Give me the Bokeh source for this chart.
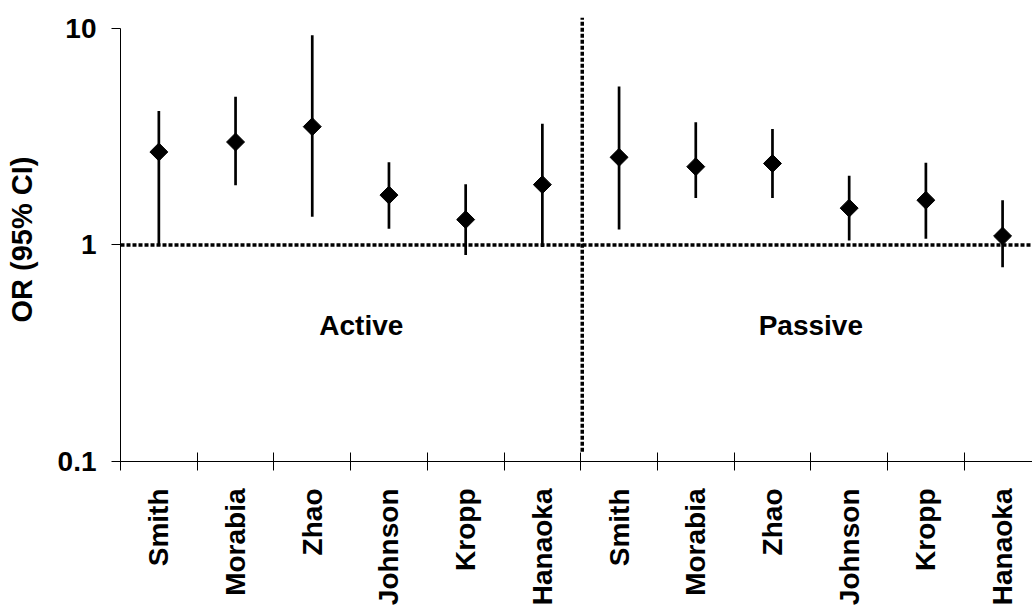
import math
from bokeh.plotting import figure
from bokeh.models import FixedTicker, Range1d, CustomJSTickFormatter, Span
from bokeh.core.properties import value
from bokeh.embed import file_html
from bokeh.resources import INLINE

# ---- data ----
studies = ["Smith", "Morabia", "Zhao", "Johnson", "Kropp", "Hanaoka"]
groups = ["Active", "Passive"]
active_or = [2.69, 2.99, 3.52, 1.70, 1.31, 1.90]
active_lo = [0.99, 1.89, 1.35, 1.19, 0.90, 0.98]
active_hi = [4.16, 4.84, 9.30, 2.41, 1.91, 3.63]
passive_or = [2.54, 2.30, 2.38, 1.48, 1.61, 1.10]
passive_lo = [1.18, 1.65, 1.65, 1.05, 1.07, 0.79]
passive_hi = [5.39, 3.69, 3.43, 2.09, 2.40, 1.61]
y_ticks = [0.1, 1, 10]
y_tick_labels = ["0.1", "1", "10"]
ref_or = 1.0

# layout / annotation positions (not data)
group_label_x = [3.14, 9.0]
group_label_y = [0.425, 0.425]
divider_x = 6.02
divider_y = (0.111, 11.24)

labels = studies + studies
n = len(labels)
xs = [i + 0.5 for i in range(n)]
ors = active_or + passive_or
los = active_lo + passive_lo
his = active_hi + passive_hi

FONT = "Liberation Sans"

p = figure(width=1032, height=608, y_axis_type="log",
           x_range=Range1d(0, 11.89), y_range=Range1d(0.1, 11.24),
           output_backend="svg", toolbar_location=None,
           min_border_left=120, min_border_right=0,
           min_border_top=17, min_border_bottom=146)
p.outline_line_color = None
p.xgrid.grid_line_color = None
p.ygrid.grid_line_color = None
p.background_fill_color = "white"
p.border_fill_color = "white"

# x axis
xa = p.xaxis[0]
xa.ticker = FixedTicker(ticks=xs, minor_ticks=list(range(n)))
xa.formatter = CustomJSTickFormatter(args=dict(names=labels),
                                     code="const i = Math.floor(tick); return (i >= 0 && i < names.length) ? names[i] : '';")
xa.major_tick_in = 0
xa.major_tick_out = 0
xa.minor_tick_in = 9
xa.minor_tick_out = 9
xa.minor_tick_line_color = "black"
xa.axis_line_color = "black"
xa.major_label_orientation = math.pi / 2
xa.major_label_standoff = 18
xa.major_label_text_font = FONT
xa.major_label_text_font_style = "bold"
xa.major_label_text_font_size = "28px"
xa.major_label_text_color = "black"

# y axis
ya = p.yaxis[0]
ya.ticker = FixedTicker(ticks=y_ticks, minor_ticks=[])
ya.formatter = CustomJSTickFormatter(args=dict(vals=y_ticks, labs=y_tick_labels),
                                     code="for (let i = 0; i < vals.length; i++) { if (Math.abs(vals[i] - tick) < 1e-9 * Math.max(1, vals[i])) return labs[i]; } return '';")
ya.bounds = (y_ticks[0], y_ticks[-1])
ya.major_tick_in = 0
ya.major_tick_out = 9
ya.minor_tick_line_color = None
ya.axis_line_color = "black"
ya.major_label_standoff = 15
ya.major_label_text_font = FONT
ya.major_label_text_font_style = "bold"
ya.major_label_text_font_size = "28px"
ya.major_label_text_color = "black"
ya.axis_label = "OR (95% CI)"
ya.axis_label_text_font = FONT
ya.axis_label_text_font_style = "bold"
ya.axis_label_text_font_size = "29px"
ya.axis_label_text_color = "black"
ya.axis_label_standoff = 17

# reference lines
p.add_layout(Span(location=ref_or, dimension="width", line_color="black",
                  line_width=3.5, line_dash="4 2"))
p.segment(x0=[divider_x], y0=[divider_y[0]], x1=[divider_x], y1=[divider_y[1]],
          line_color="black", line_width=3.5, line_dash="4 2")

# CI whiskers and points
p.segment(x0=xs, y0=los, x1=xs, y1=his, line_color="black", line_width=2.7)
p.scatter(x=xs, y=ors, marker="square", angle=math.pi / 4, size=12.7,
          fill_color="black", line_color="black")

# group labels
p.text(x=group_label_x, y=group_label_y, text=groups,
       text_font=value(FONT), text_font_style="bold", text_font_size="28px",
       text_align="center", text_baseline="middle", text_color="black")

open("out.html", "w").write(file_html(p, INLINE))
